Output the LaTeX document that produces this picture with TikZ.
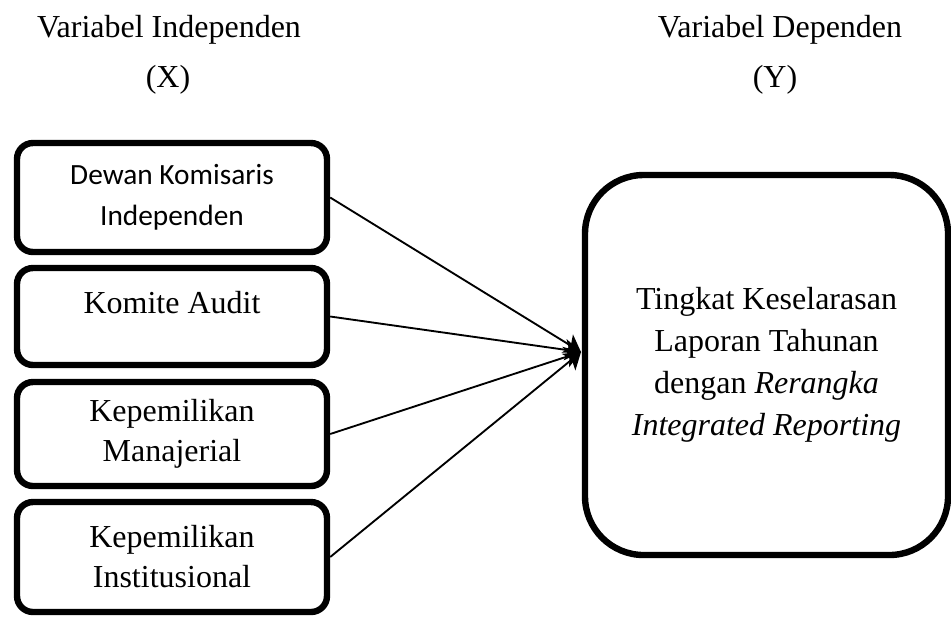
\documentclass[tikz,border=0pt]{standalone}
\usepackage{fontspec}
\setmainfont{Liberation Serif}
\newfontfamily\calibri{Carlito}
\usetikzlibrary{arrows.meta}
\newcommand\pxu{0.375pt}

\begin{document}
\begin{tikzpicture}[x=\pxu, y=-\pxu, font=\fontsize{12}{15}\selectfont,
    kotak/.style={draw, line width=2.4pt, rounded corners=6pt, inner sep=0pt, minimum width=310*\pxu, align=center},
    panah/.style={-{Stealth[length=6pt,width=8pt,inset=1.5pt]}, line width=0.7pt}]
  \useasboundingbox (0,0) rectangle (951,616);
  % judul variabel
  \node (judulx) at (169,30) {Variabel Independen};
  \node (labelx) at (168,80) {(X)};
  \node (juduly) at (780,30) {Variabel Dependen};
  \node (labely) at (775,80) {(Y)};
  % variabel independen
  \node [kotak, minimum height=109*\pxu, font=\calibri\fontsize{11}{15.4}\selectfont] (dk) at (172,197.5) {Dewan Komisaris\\ Independen};
  \node [kotak, minimum height=97*\pxu, text height=10pt, text depth=12pt] (ka) at (172,316.5) {Komite Audit};
  \node [kotak, minimum height=104*\pxu] (km) at (172,434) {Kepemilikan\\ Manajerial};
  \node [kotak, minimum height=110*\pxu] (ki) at (172,557) {Kepemilikan\\ Institusional};
  % variabel dependen
  \node [kotak, minimum width=363*\pxu, minimum height=380*\pxu, rounded corners=22pt, font=\fontsize{12}{15.75}\selectfont] (dep) at (766.5,365) {Tingkat Keselarasan\\ Laporan Tahunan\\ dengan \textit{Rerangka}\\ \textit{Integrated Reporting}};
  \coordinate (ujung) at (581,352);
  % panah
  \draw [panah] (dk.east) -- (ujung);
  \draw [panah] (ka.east) -- (ujung);
  \draw [panah] (km.east) -- (ujung);
  \draw [panah] (ki.east) -- (ujung);
\end{tikzpicture}
\end{document}
